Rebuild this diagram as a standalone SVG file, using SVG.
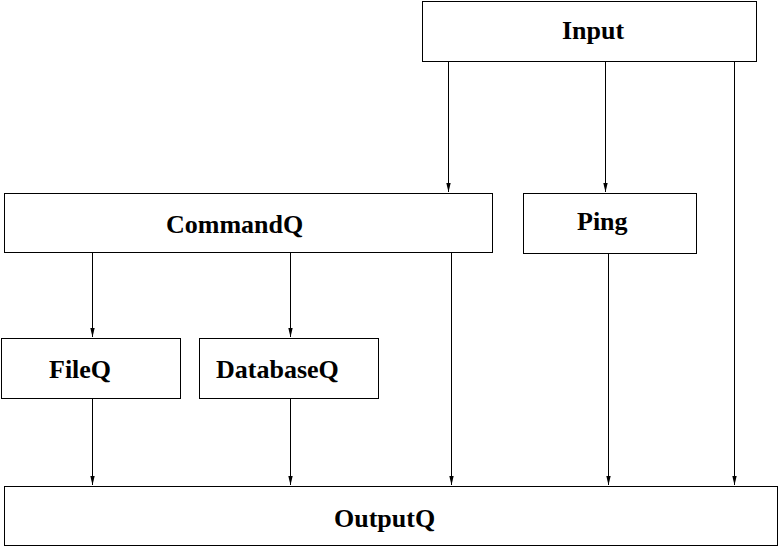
<svg xmlns="http://www.w3.org/2000/svg" width="780" height="547" viewBox="0 0 780 547">
<style>
.box{fill:#fff;stroke:#000;stroke-width:1}
.lbl{font-family:"Liberation Serif","Times New Roman",serif;font-weight:bold;font-size:26px;fill:#000}
.c{stroke:#000;stroke-width:1;fill:none;marker-end:url(#ah)}
</style>
<defs>
<marker id="ah" markerUnits="userSpaceOnUse" markerWidth="10" markerHeight="6" refX="9" refY="2.5" orient="auto" viewBox="0 0 10 5" overflow="visible">
<path d="M0,0.3 L9,2.5 L0,4.7 z" fill="#000"/>
</marker>
</defs>
<rect width="780" height="547" fill="#fff"/>
<g id="connectors">
<path class="c" d="M448.5,61.5 V192"/>
<path class="c" d="M605.5,61.5 V192"/>
<path class="c" d="M734.5,61.5 V485"/>
<path class="c" d="M92.5,252.5 V337"/>
<path class="c" d="M290.5,252.5 V337"/>
<path class="c" d="M451.5,252.5 V485"/>
<path class="c" d="M608.5,253.5 V485"/>
<path class="c" d="M92.5,398.5 V485"/>
<path class="c" d="M290.5,398.5 V485"/>
</g>
<g id="input"><rect class="box" x="422.5" y="1.5" width="334" height="60"/><text class="lbl" x="562" y="39">Input</text></g>
<g id="commandq"><rect class="box" x="4.5" y="193.5" width="488" height="59"/><text class="lbl" x="166" y="233">CommandQ</text></g>
<g id="ping"><rect class="box" x="523.5" y="193.5" width="173" height="60"/><text class="lbl" x="577" y="230">Ping</text></g>
<g id="fileq"><rect class="box" x="1.5" y="338.5" width="179" height="60"/><text class="lbl" x="49" y="378">FileQ</text></g>
<g id="databaseq"><rect class="box" x="199.5" y="338.5" width="179" height="60"/><text class="lbl" x="216" y="378">DatabaseQ</text></g>
<g id="outputq"><rect class="box" x="4.5" y="486.5" width="773" height="59"/><text class="lbl" x="334" y="527">OutputQ</text></g>
</svg>
